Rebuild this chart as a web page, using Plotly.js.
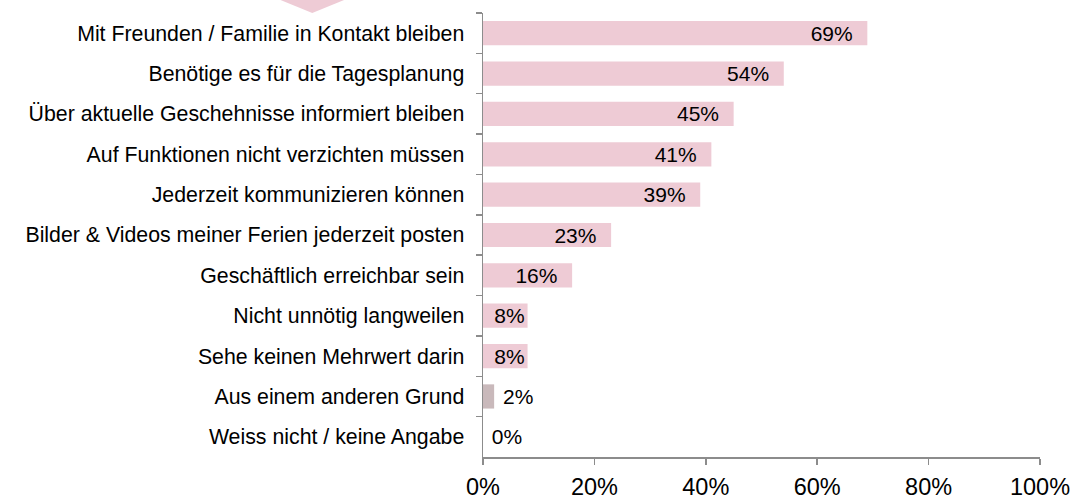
<!DOCTYPE html>
<html>
<head>
<meta charset="utf-8">
<script src="https://cdn.plot.ly/plotly-3.0.1.min.js"></script>
<style>html,body{margin:0;padding:0;background:#fff;}#chart{width:1086px;height:501px;}</style>
</head>
<body>
<div id="chart"></div>
<script>
const categories = [
  "Mit Freunden / Familie in Kontakt bleiben",
  "Benötige es für die Tagesplanung",
  "Über aktuelle Geschehnisse informiert bleiben",
  "Auf Funktionen nicht verzichten müssen",
  "Jederzeit kommunizieren können",
  "Bilder & Videos meiner Ferien jederzeit posten",
  "Geschäftlich erreichbar sein",
  "Nicht unnötig langweilen",
  "Sehe keinen Mehrwert darin",
  "Aus einem anderen Grund",
  "Weiss nicht / keine Angabe"
];
const values = [69, 54, 45, 41, 39, 23, 16, 8, 8, 2, 0];
const barColors = ["#EECBD5","#EECBD5","#EECBD5","#EECBD5","#EECBD5","#EECBD5","#EECBD5","#EECBD5","#EECBD5","#C9B9BB","#C9B9BB"];
const textPositions = ["inside","inside","inside","inside","inside","inside","inside","inside","inside","outside","outside"];
const tickVals = [0, 20, 40, 60, 80, 100];
const tickText = ["0%", "20%", "40%", "60%", "80%", "100%"];

const NB = "\u00a0";
const labels = values.map((v, i) => {
  const t = v + "%";
  if (textPositions[i] === "outside") return NB + t;
  return v >= 10 ? t + NB + NB : t;
});

const font = "Liberation Sans, Arial, sans-serif";
const trace = {
  type: "bar",
  orientation: "h",
  x: values,
  y: categories,
  marker: {color: barColors},
  text: labels,
  textposition: textPositions,
  insidetextanchor: "end",
  textfont: {family: font, size: 21, color: "#000"},
  insidetextfont: {family: font, size: 21, color: "#000"},
  outsidetextfont: {family: font, size: 21, color: "#000"},
  constraintext: "none",
  cliponaxis: false,
  hoverinfo: "none"
};
const layout = {
  width: 1086, height: 501,
  margin: {l: 483, r: 46, t: 13, b: 44},
  paper_bgcolor: "#fff", plot_bgcolor: "#fff",
  bargap: 0.4,
  showlegend: false,
  font: {family: font, size: 21, color: "#000"},
  xaxis: {
    range: [0, 100], tickvals: tickVals, ticktext: tickText,
    showgrid: false, zeroline: false,
    showline: true, linecolor: "#8c8c8c", linewidth: 1.5,
    ticks: "outside", ticklen: 6, tickcolor: "#8c8c8c", tickwidth: 1.5,
    ticklabelstandoff: 2,
    tickfont: {family: font, size: 23.5, color: "#000"},
    fixedrange: true
  },
  yaxis: {
    autorange: "reversed", type: "category",
    showgrid: false, zeroline: false,
    showline: true, linecolor: "#8c8c8c", linewidth: 1.5,
    ticks: "outside", ticklen: 6, tickcolor: "#8c8c8c", tickwidth: 1.5,
    tickson: "boundaries",
    ticklabelstandoff: 13,
    tickfont: {family: font, size: 21.3, color: "#000"},
    fixedrange: true
  },
  shapes: [{
    type: "path", xref: "paper", yref: "paper",
    path: "M -0.365 1.03 L -0.248 1.03 L -0.3065 1.0 Z",
    fillcolor: "#EECBD5", line: {width: 0}
  }]
};
Plotly.newPlot("chart", [trace], layout, {displayModeBar: false, staticPlot: true});
</script>
</body>
</html>
